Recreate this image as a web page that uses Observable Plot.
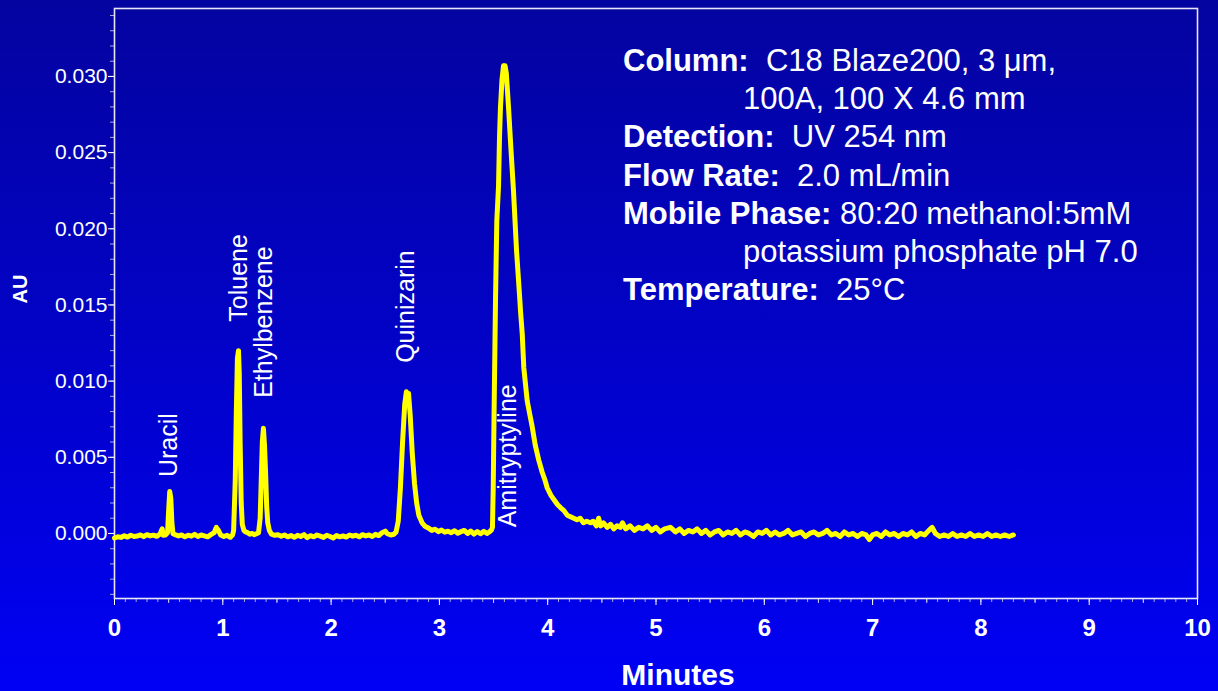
<!DOCTYPE html>
<html>
<head>
<meta charset="utf-8">
<script src="https://cdn.jsdelivr.net/npm/d3@7"></script>
<script src="https://cdn.jsdelivr.net/npm/@observablehq/plot@0.6"></script>
<style>
  html, body { margin: 0; padding: 0; }
  #wrap {
    position: relative; width: 1218px; height: 691px; overflow: hidden;
    background: linear-gradient(to bottom, #0404a0 0%, #0202c8 50%, #0000f4 100%);
    font-family: "Liberation Sans", Arial, sans-serif;
  }
  #chart { position: absolute; left: 0; top: 0; }
  #notes {
    position: absolute; left: 623px; top: 42px; color: white;
    font-size: 31px; line-height: 38.2px; white-space: pre;
    font-family: "Liberation Sans", Arial, sans-serif;
  }
  #notes b { font-weight: bold; }
</style>
</head>
<body>
<div id="wrap"><div id="chart"></div><div id="notes"></div></div>
<script>
// ---- data ----
const trace = [
  [0.00,-0.00030],[0.03,-0.00022],[0.06,-0.00026],[0.09,-0.00015],[0.12,-0.00024],[0.15,-0.00012],
  [0.18,-0.00020],[0.21,-0.00017],[0.24,-0.00010],[0.27,-0.00021],[0.30,-0.00008],[0.33,-0.00016],
  [0.36,-0.00011],[0.39,-0.00019],[0.42,-0.00005],[0.44,0.00030],[0.45,-0.00012],[0.47,-0.00010],
  [0.49,0.00005],[0.50,0.00150],[0.51,0.00275],[0.52,0.00230],[0.53,0.00070],[0.54,-0.00002],
  [0.56,-0.00008],[0.59,-0.00016],[0.62,-0.00010],[0.65,-0.00022],[0.68,-0.00012],[0.71,-0.00018],
  [0.74,-0.00006],[0.77,-0.00020],[0.80,-0.00010],[0.83,-0.00016],[0.86,-0.00022],[0.89,-0.00008],
  [0.92,0.00005],[0.94,0.00040],[0.96,0.00020],[0.98,-0.00010],[1.01,-0.00020],[1.04,-0.00012],
  [1.07,-0.00025],[1.09,-0.00010],[1.10,0.00020],[1.115,0.00350],[1.125,0.00800],[1.135,0.01150],
  [1.145,0.01200],[1.152,0.01050],[1.16,0.00600],[1.17,0.00200],[1.18,0.00060],[1.195,0.00020],
  [1.21,0.00010],[1.23,0.00005],[1.25,-0.00005],[1.27,0.00000],[1.29,-0.00008],[1.31,-0.00002],
  [1.33,0.00005],[1.345,0.00100],[1.355,0.00350],[1.365,0.00600],[1.375,0.00690],[1.385,0.00580],
  [1.395,0.00400],[1.405,0.00180],[1.415,0.00070],[1.43,0.00020],[1.45,-0.00005],[1.48,-0.00012],
  [1.51,-0.00008],[1.54,-0.00018],[1.57,-0.00010],[1.60,-0.00022],[1.63,-0.00014],[1.66,-0.00025],
  [1.69,-0.00012],[1.72,-0.00020],[1.75,-0.00008],[1.78,-0.00028],[1.81,-0.00015],[1.84,-0.00022],
  [1.87,-0.00010],[1.90,-0.00018],[1.93,-0.00026],[1.96,-0.00012],[1.99,-0.00020],[2.02,-0.00030],
  [2.05,-0.00014],[2.08,-0.00022],[2.11,-0.00016],[2.14,-0.00024],[2.17,-0.00010],[2.20,-0.00018],
  [2.23,-0.00012],[2.26,-0.00022],[2.29,-0.00008],[2.32,-0.00016],[2.35,-0.00010],[2.38,-0.00020],
  [2.41,-0.00006],[2.44,-0.00014],[2.47,0.00005],[2.50,0.00015],[2.52,-0.00002],[2.55,-0.00010],
  [2.58,-0.00005],[2.60,0.00010],[2.62,0.00080],[2.64,0.00300],[2.66,0.00600],[2.68,0.00850],
  [2.695,0.00930],[2.705,0.00900],[2.715,0.00920],[2.73,0.00780],[2.75,0.00520],[2.77,0.00330],
  [2.79,0.00200],[2.81,0.00120],[2.84,0.00070],[2.87,0.00045],[2.90,0.00035],[2.93,0.00020],
  [2.96,0.00028],[2.99,0.00012],[3.02,0.00022],[3.05,0.00008],[3.08,0.00015],[3.11,0.00005],
  [3.14,0.00018],[3.17,0.00002],[3.20,0.00012],[3.23,0.00020],[3.26,0.00000],[3.29,0.00016],
  [3.32,-0.00004],[3.35,0.00012],[3.38,-0.00002],[3.41,0.00014],[3.44,0.00000],[3.46,0.00010],
  [3.478,0.00020],[3.490,0.00040],[3.497,0.00300],[3.505,0.00800],[3.518,0.01530],[3.530,0.02050],
  [3.546,0.02280],[3.555,0.02600],[3.564,0.02800],[3.578,0.02980],[3.592,0.03070],[3.600,0.03030],
  [3.606,0.03070],[3.618,0.03020],[3.638,0.02800],[3.661,0.02520],[3.684,0.02250],[3.712,0.01860],
  [3.743,0.01530],[3.749,0.01460],[3.765,0.01310],[3.779,0.01090],[3.795,0.00980],[3.811,0.00870],
  [3.835,0.00780],[3.857,0.00700],[3.885,0.00580],[3.918,0.00480],[3.950,0.00400],[3.975,0.00350],
  [3.995,0.00300],[4.030,0.00250],[4.060,0.00220],[4.090,0.00190],[4.118,0.00170],[4.150,0.00150],
  [4.180,0.00120],[4.211,0.00110],[4.240,0.00100],[4.270,0.00090],[4.300,0.00100],[4.330,0.00070],
  [4.360,0.00080],[4.395,0.00070],[4.420,0.00080],[4.45,0.00050],[4.47,0.00100],[4.49,0.00050],
  [4.515,0.00070],[4.55,0.00040],[4.58,0.00060],[4.61,0.00030],[4.64,0.00050],[4.67,0.00040],
  [4.69,0.00070],[4.72,0.00030],[4.76,0.00050],[4.80,0.00020],[4.84,0.00040],[4.88,0.00030],
  [4.92,0.00050],[4.96,0.00020],[5.00,0.00040],[5.04,0.00010],[5.08,0.00030],[5.134,0.00040],
  [5.18,0.00010],[5.22,0.00030],[5.26,0.00000],[5.30,0.00020],[5.34,0.00010],[5.38,0.00030],
  [5.42,0.00000],[5.46,0.00020],[5.50,-0.00010],[5.54,0.00010],[5.58,0.00020],[5.62,-0.00010],
  [5.66,0.00010],[5.70,0.00000],[5.74,0.00020],[5.78,-0.00010],[5.82,0.00010],[5.86,0.00000],
  [5.90,-0.00020],[5.94,0.00010],[5.98,0.00000],[6.02,0.00020],[6.06,-0.00010],[6.10,0.00010],
  [6.14,-0.00010],[6.18,0.00000],[6.22,0.00020],[6.26,-0.00010],[6.30,0.00000],[6.34,0.00010],
  [6.38,-0.00020],[6.42,0.00000],[6.46,0.00010],[6.50,-0.00010],[6.54,0.00000],[6.58,0.00020],
  [6.62,-0.00010],[6.66,0.00000],[6.70,-0.00020],[6.74,0.00010],[6.78,-0.00010],[6.82,0.00000],
  [6.86,-0.00020],[6.90,0.00000],[6.94,-0.00010],[6.97,-0.00040],[7.00,-0.00010],[7.04,0.00000],
  [7.08,-0.00020],[7.12,0.00010],[7.16,-0.00010],[7.20,0.00000],[7.24,-0.00020],[7.28,0.00000],
  [7.32,-0.00010],[7.36,0.00010],[7.40,-0.00020],[7.44,0.00000],[7.48,-0.00010],[7.52,0.00020],
  [7.55,0.00040],[7.58,0.00000],[7.62,-0.00020],[7.66,-0.00010],[7.70,-0.00020],[7.74,0.00000],
  [7.78,-0.00020],[7.82,-0.00010],[7.86,-0.00020],[7.90,0.00000],[7.94,-0.00020],[7.98,-0.00010],
  [8.02,-0.00020],[8.06,0.00000],[8.10,-0.00020],[8.14,-0.00010],[8.18,-0.00020],[8.22,-0.00010],
  [8.26,-0.00020],[8.30,-0.00010]
];

const peakNames  = ["Uracil", "Toluene", "Ethylbenzene", "Quinizarin", "Amitryptyline"];
const labelTimes = [0.50, 1.145, 1.385, 2.69, 3.633];
const labelAU    = [0.0037, 0.0139, 0.0089, 0.0112, 0.0004];

const xTicks = [0, 1, 2, 3, 4, 5, 6, 7, 8, 9, 10];
const yTicks = [0, 0.005, 0.010, 0.015, 0.020, 0.025, 0.030];

const conditionLabels = ["Column:", "", "Detection:", "Flow Rate:", "Mobile Phase:", "", "Temperature:"];
const conditionValues = ["  C18 Blaze200, 3 μm,", "100A, 100 X 4.6 mm", "  UV 254 nm", "  2.0 mL/min",
                         " 80:20 methanol:5mM", "potassium phosphate pH 7.0", "  25°C"];

// ---- chart ----
const xMinor = d3.range(0, 101).map(i => i / 10);
const xMid = d3.range(0, 10).map(i => i + 0.5);
const yMinor = d3.range(-4, 35).map(i => i / 1000);

const chart = Plot.plot({
  width: 1218,
  height: 691,
  marginLeft: 114,
  marginRight: 21,
  marginTop: 8,
  marginBottom: 93,
  style: {background: "transparent", color: "white", fontFamily: "'Liberation Sans', Arial, sans-serif", overflow: "visible"},
  x: {domain: [0, 10], label: null},
  y: {domain: [-0.00427, 0.03446], label: null},
  marks: [
    Plot.axisX(xMinor, {tickSize: 4, stroke: "#a8a8d8", tickFormat: () => "", label: null}),
    Plot.axisX(xMid, {tickSize: 5, stroke: "#c8c8e8", tickFormat: () => "", label: null}),
    Plot.axisX(xTicks, {tickSize: 7, stroke: "white", tickPadding: 13, fontSize: 24, fontWeight: "bold", fill: "white", tickFormat: d => String(d), label: null}),
    Plot.axisY(yMinor, {tickSize: 4, stroke: "#a8a8d8", tickFormat: () => "", label: null}),
    Plot.axisY(yTicks, {tickSize: 6, stroke: "white", tickPadding: 1, fontSize: 21, fill: "white", tickFormat: d3.format(".3f"), label: null}),
    Plot.frame({stroke: "#e6e6f6", strokeWidth: 1.6}),
    Plot.line(trace, {x: d => d[0], y: d => d[1], stroke: "#ffff00", strokeWidth: 5, strokeLinejoin: "round", strokeLinecap: "round"}),
    Plot.text(peakNames, {x: (d, i) => labelTimes[i], y: (d, i) => labelAU[i], text: d => d, rotate: -90, textAnchor: "start", fontSize: 25, fill: "white"}),
    Plot.text(["AU"], {frameAnchor: "left", dx: -94, rotate: -90, fontSize: 20, fontWeight: "bold", fill: "white"}),
    Plot.text(["Minutes"], {frameAnchor: "bottom", dx: 22, dy: 86, fontSize: 30, fontWeight: "bold", fill: "white"})
  ]
});
document.getElementById("chart").appendChild(chart);

const notes = document.getElementById("notes");
conditionLabels.forEach((lab, i) => {
  const line = document.createElement("div");
  if (lab) {
    const b = document.createElement("b");
    b.textContent = lab;
    line.appendChild(b);
  } else {
    line.style.paddingLeft = "120px";
  }
  line.appendChild(document.createTextNode(conditionValues[i]));
  notes.appendChild(line);
});
</script>
</body>
</html>
